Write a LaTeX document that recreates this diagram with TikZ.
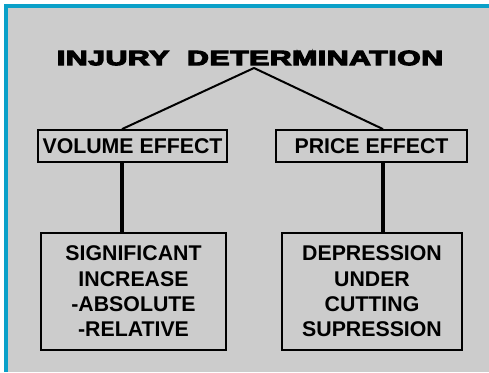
\documentclass[tikz,border=0pt]{standalone}
\usepackage{fontspec}
\setmainfont{Liberation Sans}
\usetikzlibrary{calc}

\definecolor{framecyan}{RGB}{10,160,200}
\definecolor{slidegray}{RGB}{204,204,204}

\tikzset{
  effectbox/.style={draw, line width=1.8pt, inner sep=0pt, minimum height=32pt,
    font=\fontsize{21.3}{25}\selectfont\bfseries},
  detailbox/.style={draw, line width=1.8pt, inner sep=0pt, minimum height=117pt,
    align=center, font=\fontsize{21.3}{25.3}\selectfont\bfseries},
  branch/.style={line width=2pt},
  stem/.style={line width=3.5pt},
}

\begin{document}
\begin{tikzpicture}[x=1pt,y=-1pt]
\useasboundingbox (0,0) rectangle (489,372);
% slide background and frame
\fill[white] (0,0) rectangle (489,372);
\fill[slidegray] (4,4) rectangle (489,372);
\fill[framecyan] (4,4) rectangle (489,8);
\fill[framecyan] (4,4) rectangle (8,372);

% title
\node (title) at (250,58) {\resizebox{386pt}{14.5pt}{\bfseries\addfontfeature{FakeBold=5,LetterSpace=2}INJURY\ \ DETERMINATION}};

% effect boxes
\node[effectbox, minimum width=189pt] (vol) at (132.5,146) {VOLUME EFFECT};
\node[effectbox, minimum width=191pt] (price) at (371.5,146) {PRICE EFFECT};

% detail boxes
\node[detailbox, minimum width=185pt] (sig) at (133.5,291.5) {SIGNIFICANT\\INCREASE\\-ABSOLUTE\\-RELATIVE};
\node[detailbox, minimum width=180pt] (dep) at (372,291.5) {DEPRESSION\\UNDER\\CUTTING\\SUPRESSION};

% connectors
\coordinate (apex) at (254,68);
\coordinate (lx) at (122,0);
\coordinate (rx) at (383,0);
\draw[branch] (apex) -- (vol.north -| lx);
\draw[branch] (apex) -- (price.north -| rx);
\draw[stem] (vol.south -| lx) -- (sig.north -| lx);
\draw[stem] (price.south -| rx) -- (dep.north -| rx);
\end{tikzpicture}
\end{document}
